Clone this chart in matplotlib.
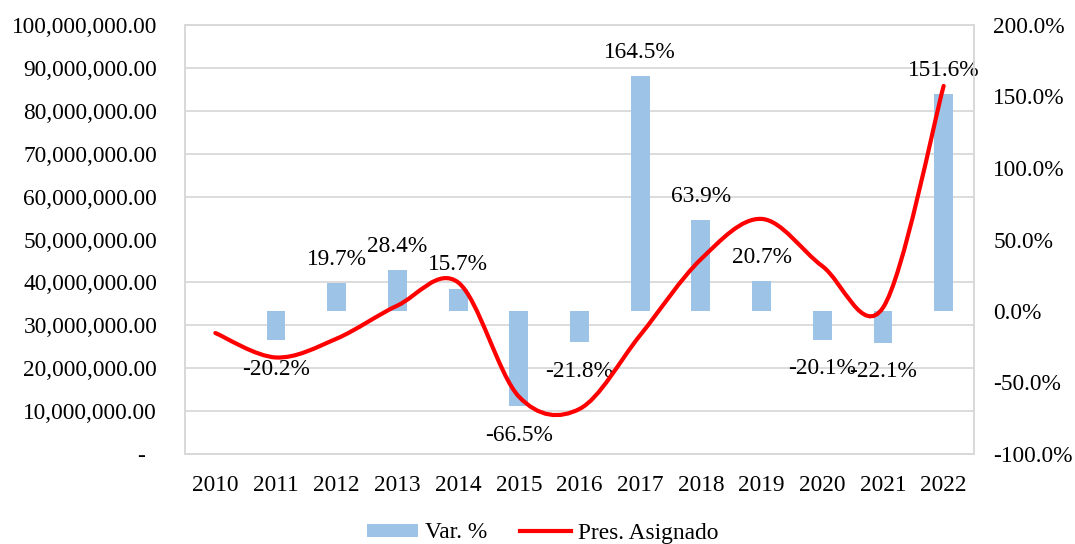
import numpy as np
import matplotlib
matplotlib.use("Agg")
import matplotlib.pyplot as plt
from matplotlib.ticker import FuncFormatter
from matplotlib.path import Path
from matplotlib.patches import PathPatch
from matplotlib.lines import Line2D
from matplotlib.patches import Patch

plt.rcParams['font.family'] = ['Liberation Serif', 'DejaVu Serif']
plt.rcParams['font.size'] = 16.8

#Chart data
years = ['2010', '2011', '2012', '2013', '2014', '2015', '2016',
         '2017', '2018', '2019', '2020', '2021', '2022']
pres_asignado = [28.2e6, 22.5e6, 26.9e6, 34.6e6, 40.0e6, 13.4e6, 10.5e6,
                 27.7e6, 45.4e6, 54.8e6, 43.8e6, 34.1e6, 85.8e6]
var_pct = [None, -20.2, 19.7, 28.4, 15.7, -66.5, -21.8,
           164.5, 63.9, 20.7, -20.1, -22.1, 151.6]

bar_color = '#9DC3E6'
grid_color = '#D9D9D9'
fs = 16.8


def smooth_path(xs, ys):
    #Excel style smoothed line: cubic bezier with catmull-rom control points
    n = len(xs)
    pts = np.column_stack([xs, ys]).astype(float)
    verts = [pts[0]]
    codes = [Path.MOVETO]
    for i in range(n - 1):
        p0 = pts[i - 1] if i > 0 else pts[i]
        p1 = pts[i]
        p2 = pts[i + 1]
        p3 = pts[i + 2] if i + 2 < n else pts[i + 1]
        c1 = p1 + (p2 - p0) / 6.0
        c2 = p2 - (p3 - p1) / 6.0
        verts += [c1, c2, p2]
        codes += [Path.CURVE4] * 3
    return Path(verts, codes)


fig = plt.figure(figsize=(10.75, 5.44), dpi=100)
ax = fig.add_axes([185/1075, 1 - 454/544, (974-185)/1075, (454-25)/544])
ax2 = ax.twinx()

#Bars on the percent axis (drawn below)
x = np.arange(len(years))
bx = [i for i, v in enumerate(var_pct) if v is not None]
bv = [v for v in var_pct if v is not None]
ax2.bar(bx, bv, width=0.31, color=bar_color, zorder=2)
for xi, v in zip(bx, bv):
    if v >= 0:
        ax2.annotate(f'{v:.1f}%', (xi, v), xytext=(0, 17), textcoords='offset points',
                     ha='center', va='center', fontsize=fs, zorder=5)
    else:
        ax2.annotate(f'{v:.1f}%', (xi, v), xytext=(0, -21), textcoords='offset points',
                     ha='center', va='center', fontsize=fs, zorder=5)

#Gridlines on the bar axes so they sit under the bars
ax2.set_ylim(-100, 200)
ax2.set_yticks(np.arange(-100, 201, 50))
ax2.set_yticks(np.arange(-100, 201, 30), minor=True)
ax2.set_xticks(np.arange(-0.5, len(years), 1), minor=True)
ax2.grid(which='minor', color=grid_color, linewidth=1.3, zorder=0)
ax2.grid(which='major', visible=False)
ax2.tick_params(which='both', length=0)
ax2.tick_params(axis='y', pad=14)
ax2.yaxis.set_major_formatter(FuncFormatter(lambda v, p: f'{v:.1f}%'))

#Line on the left axis, above the bars
ax.set_zorder(ax2.get_zorder() + 1)
ax.patch.set_visible(False)
path = smooth_path(x, pres_asignado)
ax.add_patch(PathPatch(path, facecolor='none', edgecolor='#FF0000', linewidth=3,
                       capstyle='round', zorder=3))
ax.set_xlim(-0.5, len(years) - 0.5)
ax.set_ylim(0, 100e6)
ax.set_yticks(np.arange(0, 100e6 + 1, 10e6))
ax.yaxis.set_major_formatter(FuncFormatter(
    lambda v, p: '-  ' if v == 0 else f'{v:,.2f}'))
ax.set_xticks(x)
ax.set_xticklabels(years)
ax.tick_params(which='both', length=0)
ax.tick_params(axis='y', pad=20)
ax.tick_params(axis='x', pad=15)

for a in (ax, ax2):
    for s in a.spines.values():
        s.set_color(grid_color)
        s.set_linewidth(1.3)

handles = [Patch(facecolor=bar_color, label='Var. %'),
           Line2D([], [], color='#FF0000', linewidth=3, label='Pres. Asignado')]
fig.legend(handles=handles, loc='center', bbox_to_anchor=(0.505, 1 - 533/544),
           ncol=2, frameon=False, fontsize=fs, handlelength=2.2, handleheight=0.5,
           handletextpad=0.3, columnspacing=1.4)

plt.savefig('out.png', dpi=100)
